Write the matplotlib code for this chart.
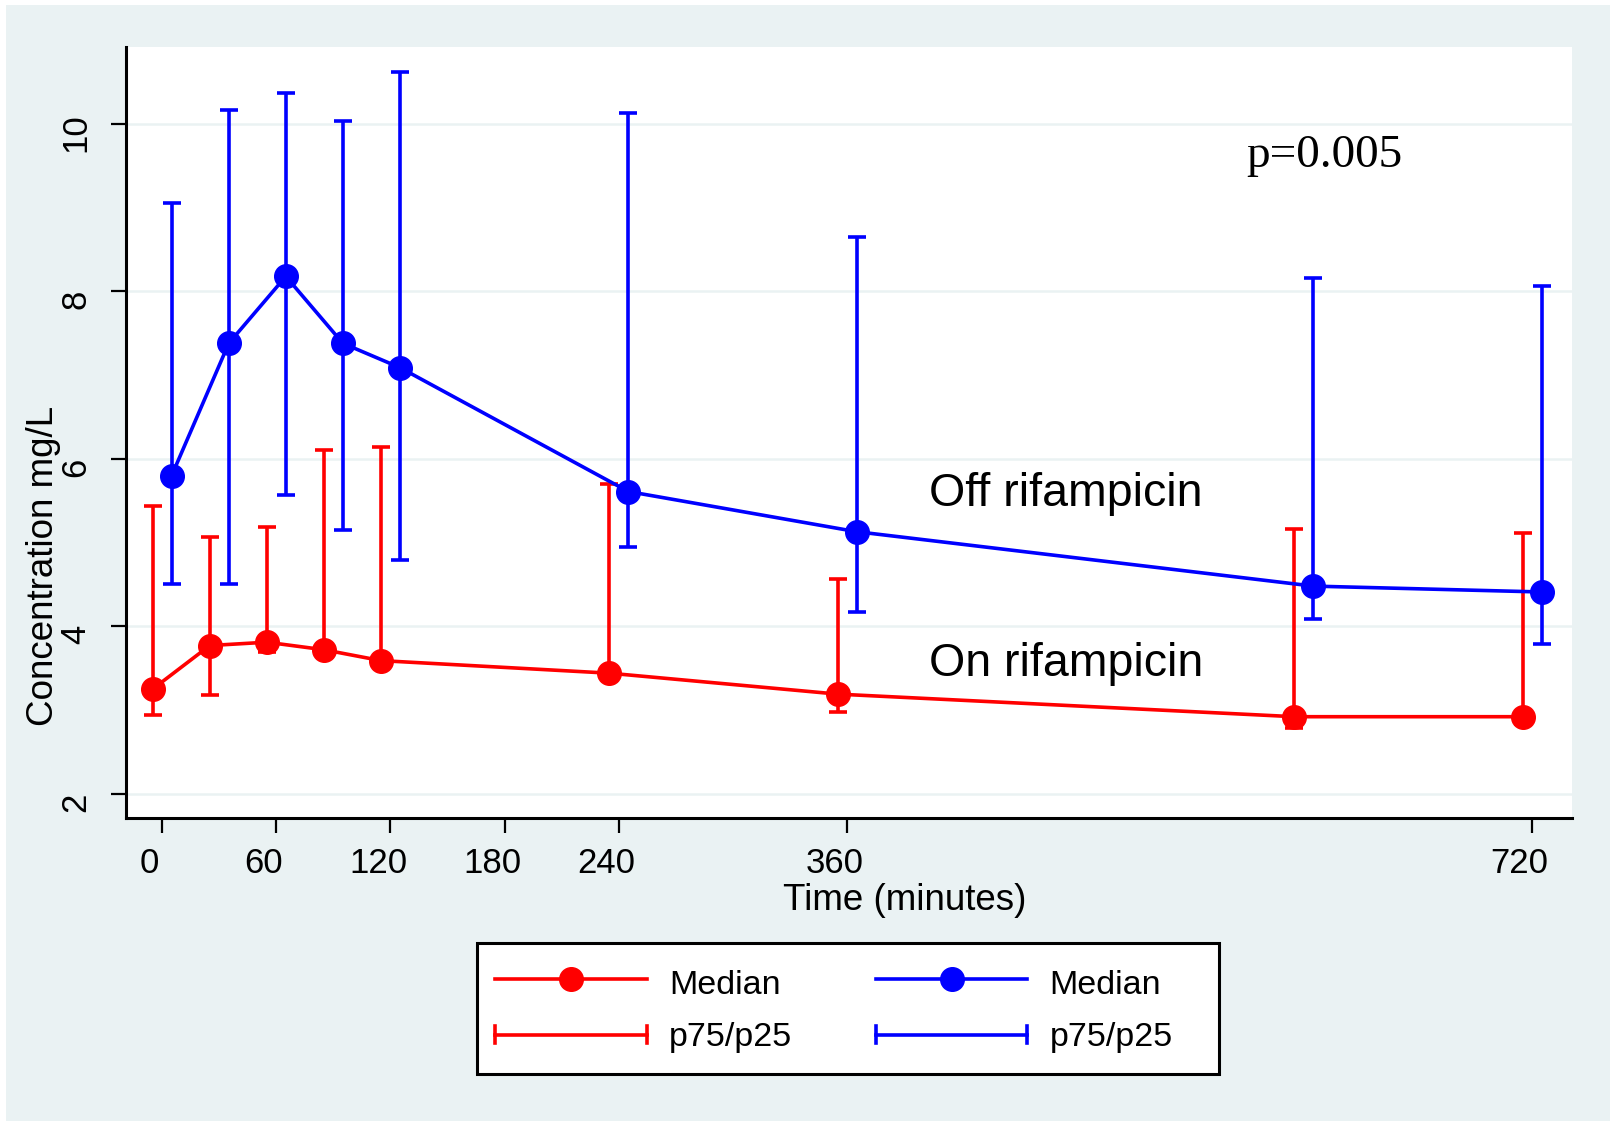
import numpy as np
import matplotlib
matplotlib.use("Agg")
import matplotlib.pyplot as plt
from matplotlib.lines import Line2D
from matplotlib.legend_handler import HandlerBase
from matplotlib.patches import Rectangle
import matplotlib.transforms as mtransforms

# Sampling times (minutes)
times = np.array([0, 30, 60, 90, 120, 240, 360, 600, 720])

# On rifampicin (red): median, p25, p75
on_median = np.array([3.25, 3.77, 3.81, 3.72, 3.59, 3.44, 3.19, 2.92, 2.92])
on_p25 = np.array([2.94, 3.18, 3.69, 3.65, 3.55, 3.40, 2.98, 2.79, 2.83])
on_p75 = np.array([5.44, 5.07, 5.19, 6.10, 6.14, 5.70, 4.57, 5.16, 5.11])

# Off rifampicin (blue): median, p25, p75
off_median = np.array([5.80, 7.38, 8.18, 7.38, 7.09, 5.61, 5.13, 4.48, 4.41])
off_p25 = np.array([4.50, 4.50, 5.57, 5.15, 4.79, 4.95, 4.17, 4.09, 3.79])
off_p75 = np.array([9.06, 10.17, 10.37, 10.04, 10.62, 10.13, 8.65, 8.16, 8.07])

xticks = [0, 60, 120, 180, 240, 360, 720]
yticks = [2, 4, 6, 8, 10]

bg = "#EAF2F3"
plt.rcParams["font.family"] = ["Liberation Sans", "DejaVu Sans"]

W, H = 1610, 1121
fig = plt.figure(figsize=(W / 100, H / 100), dpi=100, facecolor="white")
fig.add_artist(Rectangle((6 / W, 0), 1, 1 - 5 / H, transform=fig.transFigure,
                         facecolor=bg, edgecolor="none", zorder=-10))

ax = fig.add_axes([126 / W, 1 - 818 / H, (1572 - 126) / W, (818 - 47) / H])
ax.set_facecolor("white")

jit = 5
lw = 2.6
ms = 17
cap = 6.5

ax.errorbar(times - jit, on_median, yerr=[on_median - on_p25, on_p75 - on_median],
            fmt="none", ecolor="red", elinewidth=lw, capsize=cap, capthick=lw, zorder=3)
ax.plot(times - jit, on_median, "-o", color="red", lw=lw, ms=ms, zorder=4)

ax.errorbar(times + jit, off_median, yerr=[off_median - off_p25, off_p75 - off_median],
            fmt="none", ecolor="blue", elinewidth=lw, capsize=cap, capthick=lw, zorder=3)
ax.plot(times + jit, off_median, "-o", color="blue", lw=lw, ms=ms, zorder=4)

ax.set_xlim(-19, 741)
ax.set_ylim(1.71, 10.92)
ax.set_xticks(xticks)
ax.set_yticks(yticks)
ax.grid(axis="y", color=bg, lw=1.8, zorder=0)
ax.set_axisbelow(True)

for s in ["top", "right"]:
    ax.spines[s].set_visible(False)
for s in ["left", "bottom"]:
    ax.spines[s].set_linewidth(2.2)
ax.tick_params(axis="both", length=11, width=1.6, labelsize=25)
ax.tick_params(axis="x", pad=10)
ax.tick_params(axis="y", pad=13)
for lab in ax.get_yticklabels():
    lab.set_rotation(90)
    lab.set_va("center")
    lab.set_transform(lab.get_transform() +
                      mtransforms.ScaledTranslation(0, -6 / 72, fig.dpi_scale_trans))
for lab in ax.get_xticklabels():
    lab.set_transform(lab.get_transform() +
                      mtransforms.ScaledTranslation(-9 / 72, 0, fig.dpi_scale_trans))

ax.text(403, 5.44, "Off rifampicin", fontsize=33.5, va="baseline", ha="left")
ax.text(403, 3.41, "On rifampicin", fontsize=33.5, va="baseline", ha="left")
ax.text(570, 9.49, "p=0.005", fontsize=34, va="baseline", ha="left",
        family=["Liberation Serif", "DejaVu Serif"])

fig.text(0.027, 1 - 566 / H, "Concentration mg/L", rotation=90, fontsize=26.5,
         ha="center", va="center")
fig.text(905 / W, 1 - 901 / H, "Time (minutes)", fontsize=26.5, ha="center", va="center")


class HandlerRange(HandlerBase):
    def create_artists(self, legend, orig_handle, xdescent, ydescent, width, height,
                       fontsize, trans):
        c = orig_handle.get_color()
        w = orig_handle.get_linewidth()
        y = height / 2 - ydescent
        x0, x1 = -xdescent, width - xdescent
        h = 6
        arts = [Line2D([x0, x1], [y, y], color=c, lw=w),
                Line2D([x0, x0], [y - h, y + h], color=c, lw=w),
                Line2D([x1, x1], [y - h, y + h], color=c, lw=w)]
        for a in arts:
            a.set_transform(trans)
        return arts


class RangeHandle(Line2D):
    pass


# legend frame (Stata keeps extra room on the right)
fig.add_artist(Rectangle((477 / W, 1 - 1074 / H), (1219 - 477) / W, (1074 - 943) / H,
                         transform=fig.transFigure, facecolor="white",
                         edgecolor="black", lw=2.2, zorder=5))

h_on = Line2D([], [], color="red", marker="o", lw=lw, ms=ms)
r_on = RangeHandle([], [], color="red", lw=lw)
h_off = Line2D([], [], color="blue", marker="o", lw=lw, ms=ms)
r_off = RangeHandle([], [], color="blue", lw=lw)

leg = fig.legend([h_on, r_on, h_off, r_off], ["Median", "p75/p25", "Median", "p75/p25"],
                 ncol=2, loc="center", bbox_to_anchor=(834 / W, 1 - 1008.5 / H),
                 fontsize=24.5, handlelength=4.45, handletextpad=0.65, handleheight=1.3,
                 columnspacing=2.46, labelspacing=0.45, borderpad=0.6,
                 frameon=False, handler_map={RangeHandle: HandlerRange()})
leg.set_zorder(6)

fig.savefig("out.png", dpi=100, facecolor=fig.get_facecolor())
